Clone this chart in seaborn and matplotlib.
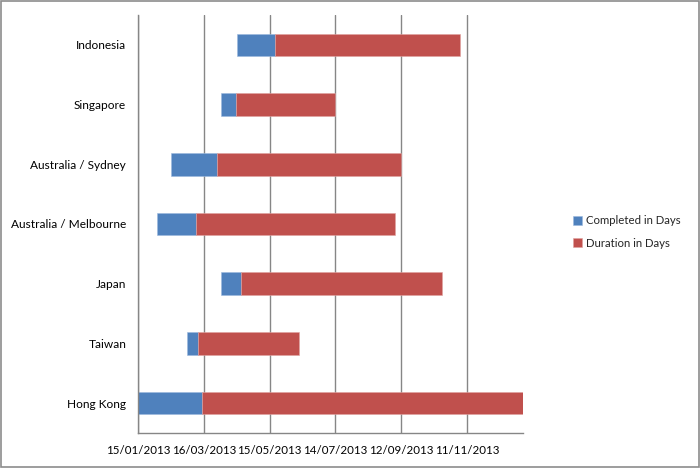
import pandas as pd
import matplotlib
matplotlib.use("Agg")
import matplotlib.pyplot as plt
import matplotlib.dates as mdates
from matplotlib.patches import Rectangle
import seaborn as sns

# Gantt data
countries = ["Indonesia", "Singapore", "Australia / Sydney", "Australia / Melbourne",
             "Japan", "Taiwan", "Hong Kong"]
start_dates = ["2013-04-15", "2013-04-01", "2013-02-14", "2013-02-01",
               "2013-04-01", "2013-03-01", "2013-01-15"]
completed_days = [35, 13, 42, 36, 18, 10, 58]
duration_days = [169, 91, 168, 181, 183, 92, 293]

axis_start = "2013-01-15"
axis_end = "2014-01-01"
tick_step_days = 60

BLUE = "#4F81BD"
RED = "#C0504D"
GREY = "#868686"
FS = 8.2

sns.set_theme(style="white")
plt.rcParams["font.family"] = ["Lato", "DejaVu Sans"]
plt.rcParams["font.size"] = FS

df = pd.DataFrame({
    "country": countries,
    "start": mdates.datestr2num(start_dates),
    "completed": completed_days,
    "duration": duration_days,
})
df["red_left"] = df["start"] + df["completed"]

fig = plt.figure(figsize=(7, 4.68), dpi=100)
ax = fig.add_axes([138 / 700, 1 - 433 / 468, (523 - 138) / 700, (433 - 15) / 468])

x0 = mdates.datestr2num(axis_start)
x1 = mdates.datestr2num(axis_end)

# gridlines first so bars sit on top
ax.set_axisbelow(True)

sns.barplot(data=df, x="completed", y="country", left=df["start"].values,
            color=BLUE, width=0.38, saturation=1, ax=ax,
            label="Completed in Days", edgecolor="#9DB9DD", linewidth=0.4)
sns.barplot(data=df, x="duration", y="country", left=df["red_left"].values,
            color=RED, width=0.38, saturation=1, ax=ax,
            label="Duration in Days", edgecolor="#DFA3A1", linewidth=0.4)

ax.set_xlim(x0, x1)
ax.set_ylim(len(countries) - 0.5, -0.5)
ticks = [x0 + tick_step_days * i for i in range(6)]
ax.set_xticks(ticks)
ax.xaxis.set_major_formatter(mdates.DateFormatter("%d/%m/%Y"))
ax.grid(axis="x", color=GREY, linewidth=1)
ax.grid(axis="y", visible=False)

# category boundary ticks on y
ax.set_yticks([i - 0.5 for i in range(len(countries) + 1)], minor=True)
ax.tick_params(axis="y", which="major", length=0, pad=8.5, labelsize=8.6, labelcolor="#000000")
ax.tick_params(axis="y", which="minor", length=3.5, width=1, color=GREY, direction="out")
ax.tick_params(axis="x", which="major", length=3.5, width=1, color=GREY, direction="out",
               pad=5, labelsize=8.3, labelcolor="#000000")
ax.set_xlabel("")
ax.set_ylabel("")

for side in ["top", "right"]:
    ax.spines[side].set_visible(False)
for side in ["left", "bottom"]:
    ax.spines[side].set_color(GREY)
    ax.spines[side].set_linewidth(1)

if ax.legend_:
    ax.legend_.remove()
handles, labels = ax.get_legend_handles_labels()
fig.legend(handles, labels, loc="center left", bbox_to_anchor=(563 / 700, 1 - 232 / 468),
           frameon=False, handlelength=0.8, handleheight=0.8, handletextpad=0.3,
           labelspacing=1.0, fontsize=FS)

fig.patches.append(Rectangle((0.001, 0.002), 0.997, 0.995, transform=fig.transFigure,
                             fill=False, edgecolor="#8C8C8C", linewidth=1.2))

fig.savefig("out.png", dpi=100)
